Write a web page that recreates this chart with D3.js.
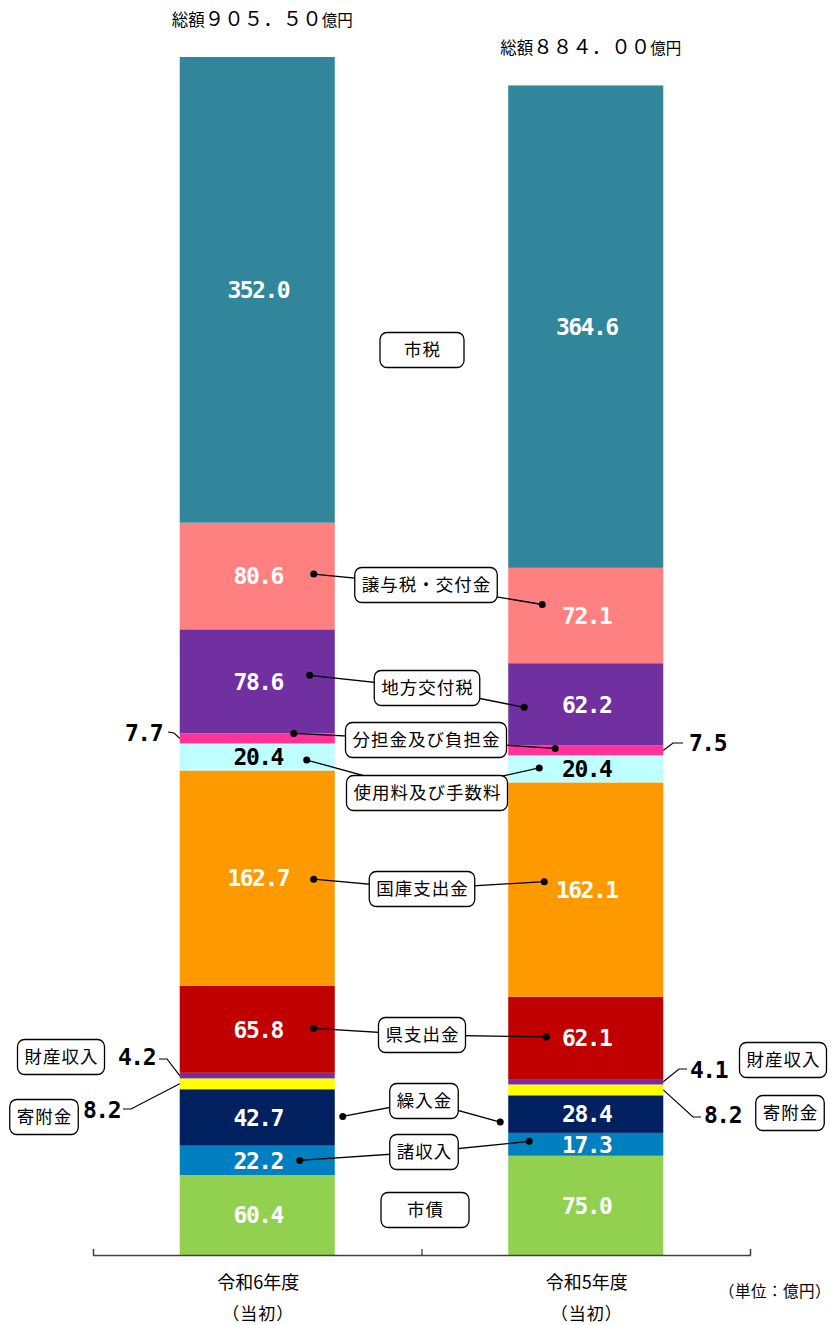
<!DOCTYPE html>
<html>
<head>
<meta charset="utf-8">
<script src="https://cdn.jsdelivr.net/npm/d3@7"></script>
<style>
  body { margin: 0; background: #fff; }
  svg { display: block; }
  .jp { font-family: "Noto Sans CJK JP", "Noto Sans", sans-serif; fill: #000; }
  .val { font-family: "DejaVu Sans Mono", monospace; font-weight: bold; font-size: 23px; letter-spacing: -1.5px; }
</style>
</head>
<body>
<div id="chart"></div>
<script>
// data (億円)
const years = ["令和6年度", "令和5年度"];
const totals = [905.50, 884.00];
const categories = ["市債", "諸収入", "繰入金", "寄附金", "財産収入", "県支出金", "国庫支出金",
    "使用料及び手数料", "分担金及び負担金", "地方交付税", "譲与税・交付金", "市税"];
const valuesR6 = [60.4, 22.2, 42.7, 8.2, 4.2, 65.8, 162.7, 20.4, 7.7, 78.6, 80.6, 352.0];
const valuesR5 = [75.0, 17.3, 28.4, 8.2, 4.1, 62.1, 162.1, 20.4, 7.5, 62.2, 72.1, 364.6];
const colors = ["#92D050", "#0080C0", "#002060", "#FFFF00", "#7030A0", "#C00000", "#FF9900",
    "#C0FFFF", "#FF3399", "#7030A0", "#FF8080", "#31869B"];

function createChart() {
    const width = 838, height = 1325;
    const svg = d3.select("#chart").append("svg")
        .attr("width", width).attr("height", height);

    const x = d3.scaleBand()
        .domain(years)
        .range([93, 750])
        .paddingInner(0.528)
        .paddingOuter(0.264);

    const y = d3.scaleLinear()
        .domain([0, d3.max(totals)])
        .range([1255, 1255 - 1198 * d3.max(totals) / 905.5]);

    const rows = categories.map((c, i) => ({cat: c, "令和6年度": valuesR6[i], "令和5年度": valuesR5[i]}));
    const colorOf = d3.scaleOrdinal().domain(categories).range(colors);

    // stack by category, one column per year
    const seg = [];
    years.forEach(yr => {
        let acc = 0;
        rows.forEach(r => {
            seg.push({year: yr, cat: r.cat, v: r[yr], y0: acc, y1: acc + r[yr]});
            acc += r[yr];
        });
    });
    const find = (yr, cat) => seg.find(s => s.year === yr && s.cat === cat);
    const mid = s => (y(s.y0) + y(s.y1)) / 2;

    svg.append("g").selectAll("rect")
        .data(seg)
        .join("rect")
        .attr("x", d => x(d.year))
        .attr("width", x.bandwidth())
        .attr("y", d => y(d.y1))
        .attr("height", d => y(d.y0) - y(d.y1))
        .attr("fill", d => colorOf(d.cat));

    // axis: ticks on band edges, pointing up
    const edge = d3.scaleLinear().domain([0, 2]).range(x.range());
    const axis = svg.append("g")
        .attr("transform", `translate(0,${y(0)})`)
        .call(d3.axisBottom(edge).tickValues([0, 1, 2]).tickSize(-6).tickFormat(""));
    axis.select(".domain").attr("stroke", "#404040").attr("stroke-width", 1.3);
    axis.selectAll(".tick line").attr("stroke", "#404040").attr("stroke-width", 1.3);

    years.forEach(yr => {
        const cx = x(yr) + x.bandwidth() / 2 + 1;
        svg.append("text").attr("class", "jp")
            .attr("x", cx).attr("y", 1289).attr("text-anchor", "middle")
            .style("font-size", "18px").text(yr);
        svg.append("text").attr("class", "jp")
            .attr("x", cx).attr("y", 1320).attr("text-anchor", "middle")
            .style("font-size", "17px").style("letter-spacing", "1px").text("（当初）");
    });
    svg.append("text").attr("class", "jp")
        .attr("x", 831).attr("y", 1297).attr("text-anchor", "end")
        .style("font-size", "15.5px").style("letter-spacing", "0.5px").text("（単位：億円）");

    // totals above bars
    const fw = s => s.replace(/[0-9.]/g, ch => ch === "." ? "．" : String.fromCharCode(ch.charCodeAt(0) + 0xFEE0));
    years.forEach((yr, i) => {
        const t = svg.append("text").attr("class", "jp")
            .attr("x", x(yr) + x.bandwidth() / 2 + 5)
            .attr("y", y(totals[i]) - 31)
            .attr("text-anchor", "middle");
        t.append("tspan").style("font-size", "16.5px").text("総額");
        t.append("tspan").style("font-size", "19.5px").text(fw(totals[i].toFixed(2)));
        t.append("tspan").style("font-size", "15.5px").text("億円");
    });

    // value labels inside bars
    const outside = ["寄附金", "財産収入", "分担金及び負担金"];
    svg.append("g").selectAll("text")
        .data(seg.filter(d => !outside.includes(d.cat)))
        .join("text")
        .attr("class", "val")
        .attr("x", d => x(d.year) + x.bandwidth() / 2 + 1)
        .attr("y", d => mid(d))
        .attr("dy", "0.36em")
        .attr("text-anchor", "middle")
        .attr("fill", d => d.cat === "使用料及び手数料" ? "#000" : "#fff")
        .text(d => d.v.toFixed(1));

    // small values outside, with leaders
    const outLabels = [
        {year: "令和6年度", cat: "分担金及び負担金", tx: 162, ty: 733, pts: [[168, 732], [174, 733]]},
        {year: "令和6年度", cat: "財産収入", tx: 155, ty: 1057, pts: [[159, 1059], [167, 1059]]},
        {year: "令和6年度", cat: "寄附金", tx: 120, ty: 1110, pts: [[123, 1109], [131, 1109]]},
        {year: "令和5年度", cat: "分担金及び負担金", tx: 689, ty: 743, pts: [[683, 743], [673, 743]]},
        {year: "令和5年度", cat: "財産収入", tx: 690, ty: 1070, pts: [[687, 1069], [679, 1069]]},
        {year: "令和5年度", cat: "寄附金", tx: 704, ty: 1115, pts: [[701, 1117], [693, 1117]]}
    ];
    outLabels.forEach(o => {
        const s = find(o.year, o.cat);
        const left = o.year === years[0];
        const ex = left ? x(o.year) : x(o.year) + x.bandwidth();
        const pts = o.pts.concat([[ex, mid(s)]]);
        svg.append("path")
            .attr("d", d3.line()(pts))
            .attr("fill", "none").attr("stroke", "#000").attr("stroke-width", 1.2);
        svg.append("text").attr("class", "val")
            .attr("x", o.tx).attr("y", o.ty).attr("dy", "0.36em")
            .attr("text-anchor", left ? "end" : "start")
            .attr("fill", "#000")
            .text(s.v.toFixed(1));
    });

    // category boxes, with leader lines to dots
    const boxes = [
        {cat: "市税", cx: 422, cy: 350, minW: 84},
        {cat: "譲与税・交付金", cx: 426, cy: 585, d6: [134, -2], d5: [34, -11]},
        {cat: "地方交付税", cx: 427, cy: 688, d6: [130, -6], d5: [16, 3]},
        {cat: "分担金及び負担金", cx: 426, cy: 740, d6: [114, -5], d5: [47, -2]},
        {cat: "使用料及び手数料", cx: 427, cy: 793, d6: [127, 3], d5: [31, -1]},
        {cat: "国庫支出金", cx: 422, cy: 889, d6: [134, 1], d5: [36, -8]},
        {cat: "県支出金", cx: 422, cy: 1035, d6: [134, -1], d5: [38, -1]},
        {cat: "繰入金", cx: 424, cy: 1101, d6: [163, -1], d5: [-8, 8]},
        {cat: "諸収入", cx: 424, cy: 1152, d6: [120, 0], d5: [21, -3]},
        {cat: "市債", cx: 425, cy: 1210, minW: 88},
        {cat: "財産収入", cx: 61, cy: 1057},
        {cat: "寄附金", cx: 44, cy: 1117},
        {cat: "財産収入", cx: 783, cy: 1060},
        {cat: "寄附金", cx: 790, cy: 1113}
    ];

    const lines = svg.append("g");
    const dots = svg.append("g");
    boxes.forEach(b => {
        [["d6", years[0]], ["d5", years[1]]].forEach(([k, yr]) => {
            if (!b[k]) return;
            const s = find(yr, b.cat);
            const px = x(yr) + b[k][0], py = mid(s) + b[k][1];
            lines.append("line")
                .attr("x1", px).attr("y1", py).attr("x2", b.cx).attr("y2", b.cy)
                .attr("stroke", "#000").attr("stroke-width", 1.3);
            dots.append("circle").attr("cx", px).attr("cy", py).attr("r", 3.5).attr("fill", "#000");
        });
    });

    const bg = svg.append("g");
    boxes.forEach(b => {
        const g = bg.append("g");
        const rect = g.append("rect");
        const t = g.append("text").attr("class", "jp")
            .attr("x", b.cx + 0.5).attr("y", b.cy).attr("dy", "0.36em")
            .attr("text-anchor", "middle")
            .style("font-size", "17.5px").style("letter-spacing", "1px")
            .text(b.cat);
        const tw = t.node().getComputedTextLength();
        const w = Math.max(tw + 13, b.minW || 0);
        rect.attr("x", b.cx - w / 2).attr("y", b.cy - 17.5)
            .attr("width", w).attr("height", 35)
            .attr("rx", 7)
            .attr("fill", "#fff").attr("stroke", "#000").attr("stroke-width", 1.3);
    });
}

document.addEventListener('DOMContentLoaded', createChart);
</script>
</body>
</html>
